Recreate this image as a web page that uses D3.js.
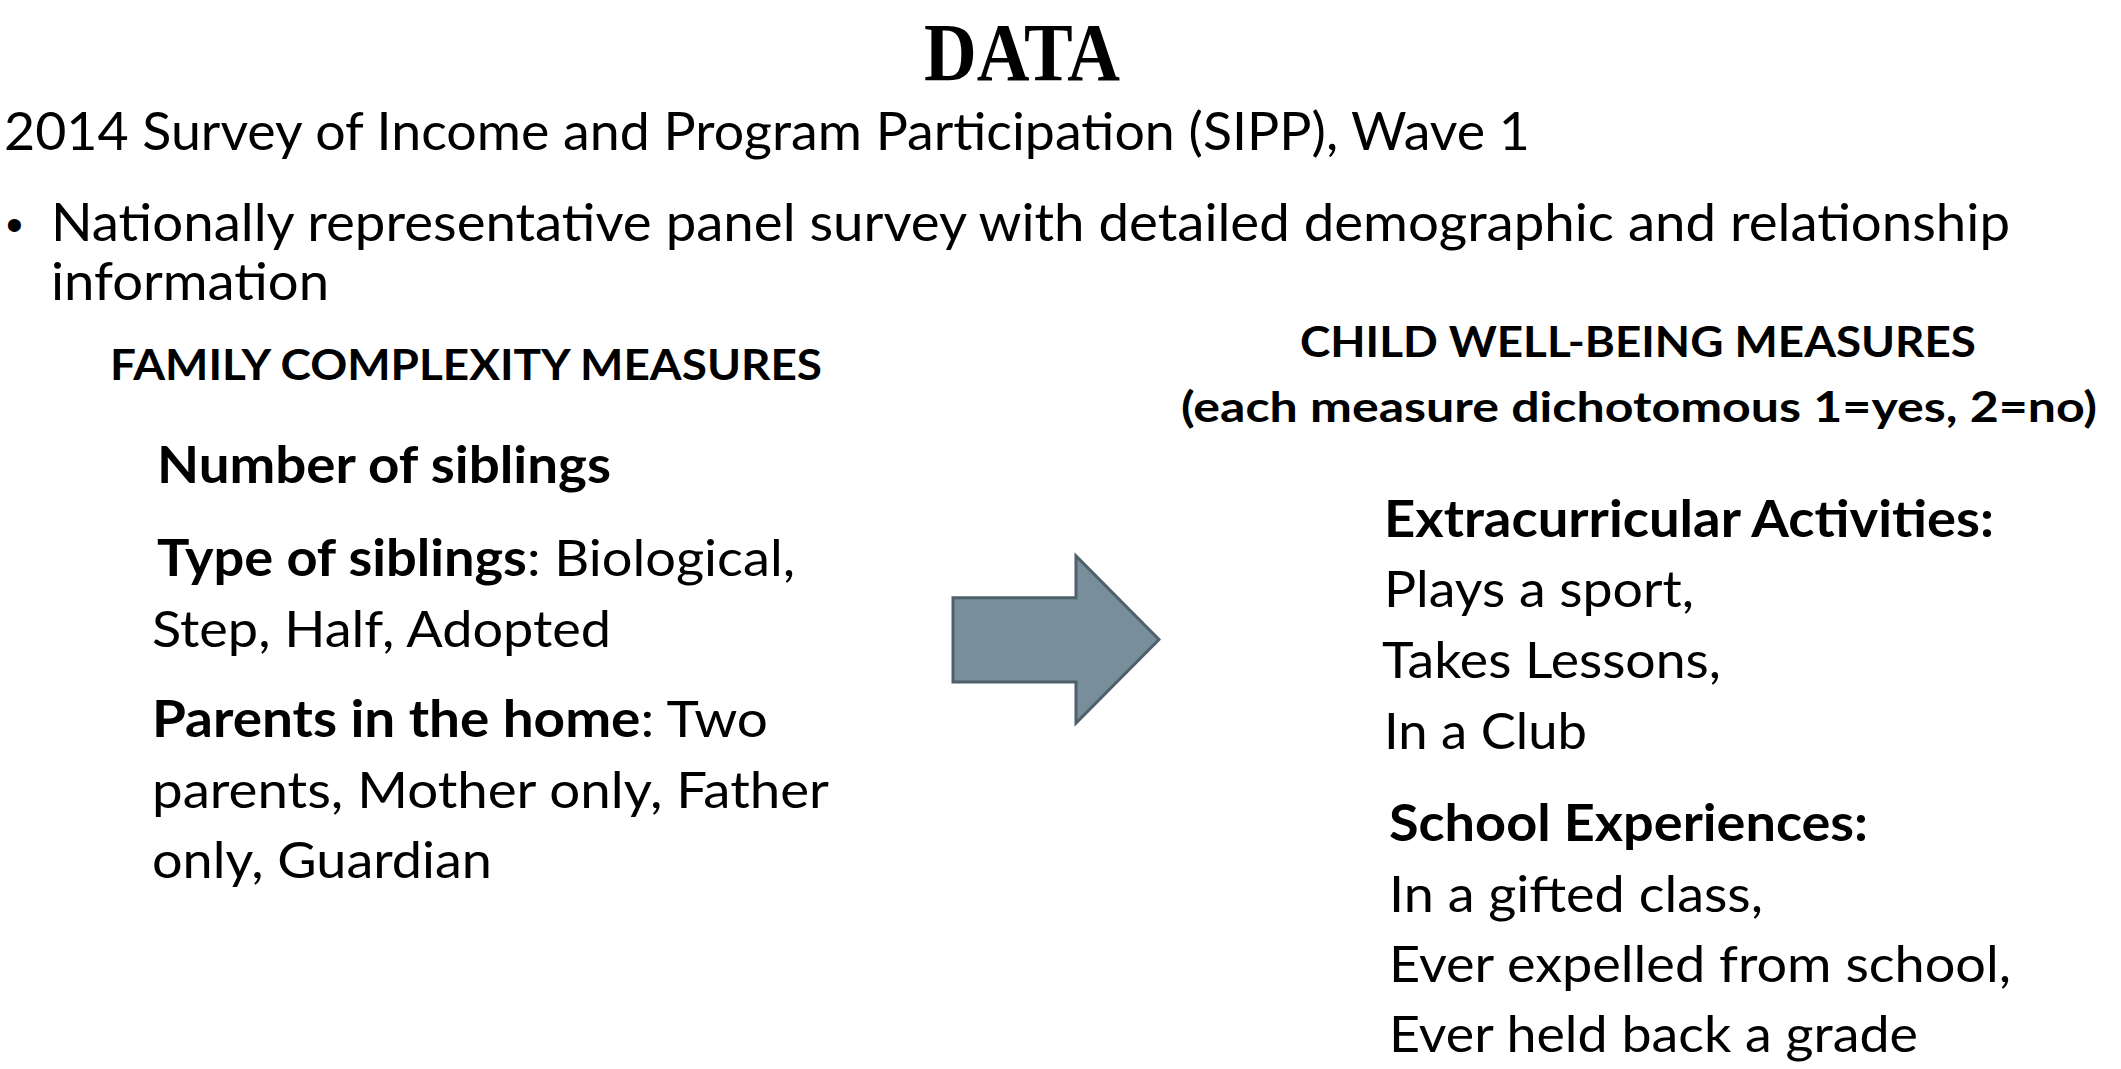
<!DOCTYPE html>
<html>
<head>
<meta charset="utf-8">
<script src="https://cdn.jsdelivr.net/npm/d3@7"></script>
<style>
  html, body { margin: 0; padding: 0; background: #fff; }
  svg { display: block; }
</style>
</head>
<body>
<div id="slide"></div>
<script>
// Slide text
const titleText = "DATA";
const sourceText = "2014 Survey of Income and Program Participation (SIPP), Wave 1";
const bulletText = [
  "Nationally representative panel survey with detailed demographic and relationship",
  "information"
];
const leftHeader = ["FAMILY COMPLEXITY MEASURES"];
const rightHeader = ["CHILD WELL-BEING MEASURES", "(each measure dichotomous 1=yes, 2=no)"];
// [bold part, regular part]
const familyLines = [
  ["Number of siblings", ""],
  ["Type of siblings", ": Biological,"],
  ["", "Step, Half, Adopted"],
  ["Parents in the home", ": Two"],
  ["", "parents, Mother only, Father"],
  ["", "only, Guardian"]
];
const wellbeingLines = [
  ["Extracurricular Activities:", ""],
  ["", "Plays a sport,"],
  ["", "Takes Lessons,"],
  ["", "In a Club"],
  ["School Experiences:", ""],
  ["", "In a gifted class,"],
  ["", "Ever expelled from school,"],
  ["", "Ever held back a grade"]
];
// arrow outline in unit box coordinates
const arrowShape = [[0, 0.25], [0.597, 0.25], [0.597, 0], [1, 0.5], [0.597, 1], [0.597, 0.755], [0, 0.755]];

const W = 2121, H = 1069;
const sans = "Lato, 'Open Sans', sans-serif";
const serif = "'Liberation Serif', 'Times New Roman', serif";

// layout: x, baseline y, target width
const layout = {
  title: { x: 924, y: 80, w: 196, size: 82 },
  source: { x: 4, y: 150, w: 1526, size: 52 },
  bullet: [{ x: 51, y: 241, w: 1959 }, { x: 51, y: 300, w: 278 }],
  leftHeader: [{ x: 110, y: 380, w: 712 }],
  rightHeader: [{ x: 1300, y: 357, w: 676 }, { x: 1181, y: 422, w: 916 }],
  family: [
    { x: 157, y: 483, w: 454 },
    { x: 157, y: 576, w: 638 },
    { x: 152, y: 647, w: 459 },
    { x: 152, y: 737, w: 616 },
    { x: 152, y: 808, w: 677 },
    { x: 152, y: 878, w: 340 }
  ],
  wellbeing: [
    { x: 1384, y: 537, w: 610 },
    { x: 1384, y: 607, w: 310 },
    { x: 1382, y: 678, w: 339 },
    { x: 1384, y: 749, w: 203 },
    { x: 1389, y: 841, w: 479 },
    { x: 1389, y: 912, w: 374 },
    { x: 1389, y: 982, w: 622 },
    { x: 1389, y: 1052, w: 529 }
  ],
  arrow: { x0: 953, x1: 1159, y0: 556, y1: 723 }
};

const svg = d3.select("#slide").append("svg")
  .attr("width", W).attr("height", H)
  .attr("viewBox", `0 0 ${W} ${H}`);

svg.append("rect").attr("width", W).attr("height", H).attr("fill", "#fff");

// draw one line, fitted to its measured width
function drawLine(parts, pos, size, opts = {}) {
  const t = svg.append("text")
    .attr("x", pos.x).attr("y", pos.y)
    .attr("font-family", opts.family || sans)
    .attr("font-size", size)
    .attr("fill", "#000")
    .attr("textLength", pos.w)
    .attr("lengthAdjust", "spacingAndGlyphs");
  if (parts[0]) t.append("tspan").attr("font-weight", 700).text(parts[0]);
  if (parts[1]) t.append("tspan").attr("font-weight", opts.weight || 400).text(parts[1]);
  return t;
}

drawLine([titleText, ""], layout.title, layout.title.size, { family: serif });
drawLine(["", sourceText], layout.source, layout.source.size);

svg.append("text")
  .attr("x", 6).attr("y", layout.bullet[0].y)
  .attr("font-family", "Arial, 'Liberation Sans', sans-serif")
  .attr("font-size", 48).text("•");
bulletText.forEach((s, i) => drawLine(["", s], layout.bullet[i], 52));

leftHeader.forEach((s, i) => drawLine([s, ""], layout.leftHeader[i], 42));
rightHeader.forEach((s, i) => drawLine([s, ""], layout.rightHeader[i], 42));

familyLines.forEach((p, i) => drawLine(p, layout.family[i], 51));
wellbeingLines.forEach((p, i) => drawLine(p, layout.wellbeing[i], 51));

// arrow
const ax = d3.scaleLinear().domain([0, 1]).range([layout.arrow.x0, layout.arrow.x1]);
const ay = d3.scaleLinear().domain([0, 1]).range([layout.arrow.y0, layout.arrow.y1]);
svg.append("path")
  .attr("d", d3.line().x(d => ax(d[0])).y(d => ay(d[1])).curve(d3.curveLinearClosed)(arrowShape))
  .attr("fill", "#788f9b")
  .attr("stroke", "#4e616b")
  .attr("stroke-width", 3)
  .attr("stroke-linejoin", "miter");
</script>
</body>
</html>
